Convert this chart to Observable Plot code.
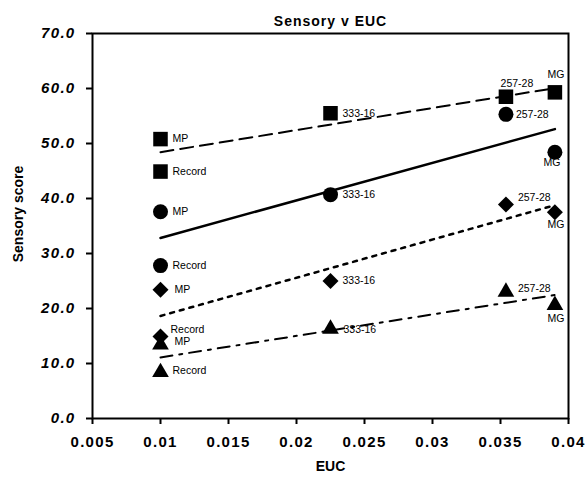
<!DOCTYPE html>
<html>
<head>
<meta charset="utf-8">
<script src="https://cdn.jsdelivr.net/npm/d3@7"></script>
<script src="https://cdn.jsdelivr.net/npm/@observablehq/plot@0.6"></script>
<style>
  html, body { margin: 0; padding: 0; background: white; }
  svg { display: block; }
  [aria-label="x-axis tick label"] text, [aria-label="y-axis tick label"] text { letter-spacing: 1.3px; }
  .ttl text { letter-spacing: 1px; }
</style>
</head>
<body>
<div id="chart"></div>
<script>
// ---- data ----
const title = "Sensory v EUC";
const xLabel = "EUC";
const yLabel = "Sensory score";
const categories = ["MP", "Record", "333-16", "257-28", "MG"];
const eucValues = [0.01, 0.01, 0.0225, 0.0354, 0.039];
const squareScores = [50.8, 44.9, 55.5, 58.5, 59.3];
const circleScores = [37.6, 27.8, 40.7, 55.3, 48.4];
const diamondScores = [23.4, 14.9, 25.0, 38.9, 37.5];
const triangleScores = [13.4, 8.4, 16.3, 23.0, 20.6];
const xTicks = [0.005, 0.01, 0.015, 0.02, 0.025, 0.03, 0.035, 0.04];
const xTickLabels = ["0.005", "0.01", "0.015", "0.02", "0.025", "0.03", "0.035", "0.04"];
const yTicks = [0, 10, 20, 30, 40, 50, 60, 70];
const yTickLabels = ["0.0", "10.0", "20.0", "30.0", "40.0", "50.0", "60.0", "70.0"];

// ---- styles ----
const seriesStyle = [
  {name: "square", scores: squareScores, symbol: "square", r: 8.2, dash: "13,7", sw: 2},
  {name: "circle", scores: circleScores, symbol: "circle", r: 7.5, dash: null, sw: 2.5},
  {name: "diamond", scores: diamondScores, symbol: "diamond2", r: 7.2, dash: "4,6", sw: 2.5},
  {name: "triangle", scores: triangleScores, symbol: "triangle", r: 6.2, dash: "12,7,3,7", sw: 2}
];
// label placement (offsets in px, anchor)
const placement = {
  square:   {"MP": [12, 0, "start"], "Record": [12, 0, "start"], "333-16": [12, 0, "start"], "257-28": [11, -13, "middle"], "MG": [1, -18, "middle"]},
  circle:   {"MP": [12, 0, "start"], "Record": [12, 0, "start"], "333-16": [12, 0, "start"], "257-28": [10, 0, "start"], "MG": [-3, 10, "middle"]},
  diamond:  {"MP": [14, 0, "start"], "Record": [10, -7, "start"], "333-16": [12, 0, "start"], "257-28": [12, -7, "start"], "MG": [1, 12, "middle"]},
  triangle: {"MP": [14, -3, "start"], "Record": [12, -2, "start"], "333-16": [13, 1, "start"], "257-28": [12, -3, "start"], "MG": [1, 13, "middle"]}
};

const marks = [];
for (const s of seriesStyle) {
  const rows = categories.map((c, i) => ({label: c, euc: eucValues[i], score: s.scores[i]}));
  marks.push(Plot.linearRegressionY(rows, {
    x: "euc", y: "score", stroke: "black", strokeWidth: s.sw, ci: 0,
    strokeDasharray: s.dash || undefined
  }));
  marks.push(Plot.dot(rows, {x: "euc", y: "score", symbol: () => s.symbol, r: s.r, fill: "black", stroke: "none"}));
  for (const row of rows) {
    const [dx, dy, anchor] = placement[s.name][row.label];
    marks.push(Plot.text([row], {
      x: "euc", y: "score", text: "label", dx, dy, textAnchor: anchor,
      fontSize: 10.5, fill: "black"
    }));
  }
}

const chart = Plot.plot({
  width: 586,
  height: 481,
  marginTop: 33,
  marginBottom: 63,
  marginLeft: 92,
  marginRight: 18,
  style: {fontFamily: "'Liberation Sans', Arial, sans-serif", background: "white", color: "black"},
  symbol: {type: "identity"},
  x: {domain: [0.005, 0.04]},
  y: {domain: [0, 70]},
  marks: [
    Plot.axisX({ticks: xTicks, tickFormat: d => xTickLabels[xTicks.indexOf(d)], tickSize: 6, tickPadding: 12,
      fontSize: 15, fontWeight: "bold", label: null, strokeWidth: 2}),
    Plot.axisY({ticks: yTicks, tickFormat: d => yTickLabels[yTicks.indexOf(d)], tickSize: 6, tickPadding: 11,
      fontSize: 15, fontWeight: "bold", fontStyle: "italic", label: null, strokeWidth: 2}),
    Plot.frame({stroke: "black", strokeWidth: 2}),
    ...marks,
    Plot.text([title], {text: d => d, frameAnchor: "top", dy: -17, fontSize: 14, fontWeight: "bold", className: "ttl"}),
    Plot.text([xLabel], {text: d => d, frameAnchor: "bottom", dy: 52, fontSize: 14, fontWeight: "bold"}),
    Plot.text([yLabel], {text: d => d, frameAnchor: "left", textAnchor: "middle", dx: -74, dy: -12, rotate: -90, fontSize: 14, fontWeight: "bold"})
  ]
});
document.getElementById("chart").appendChild(chart);
</script>
</body>
</html>
